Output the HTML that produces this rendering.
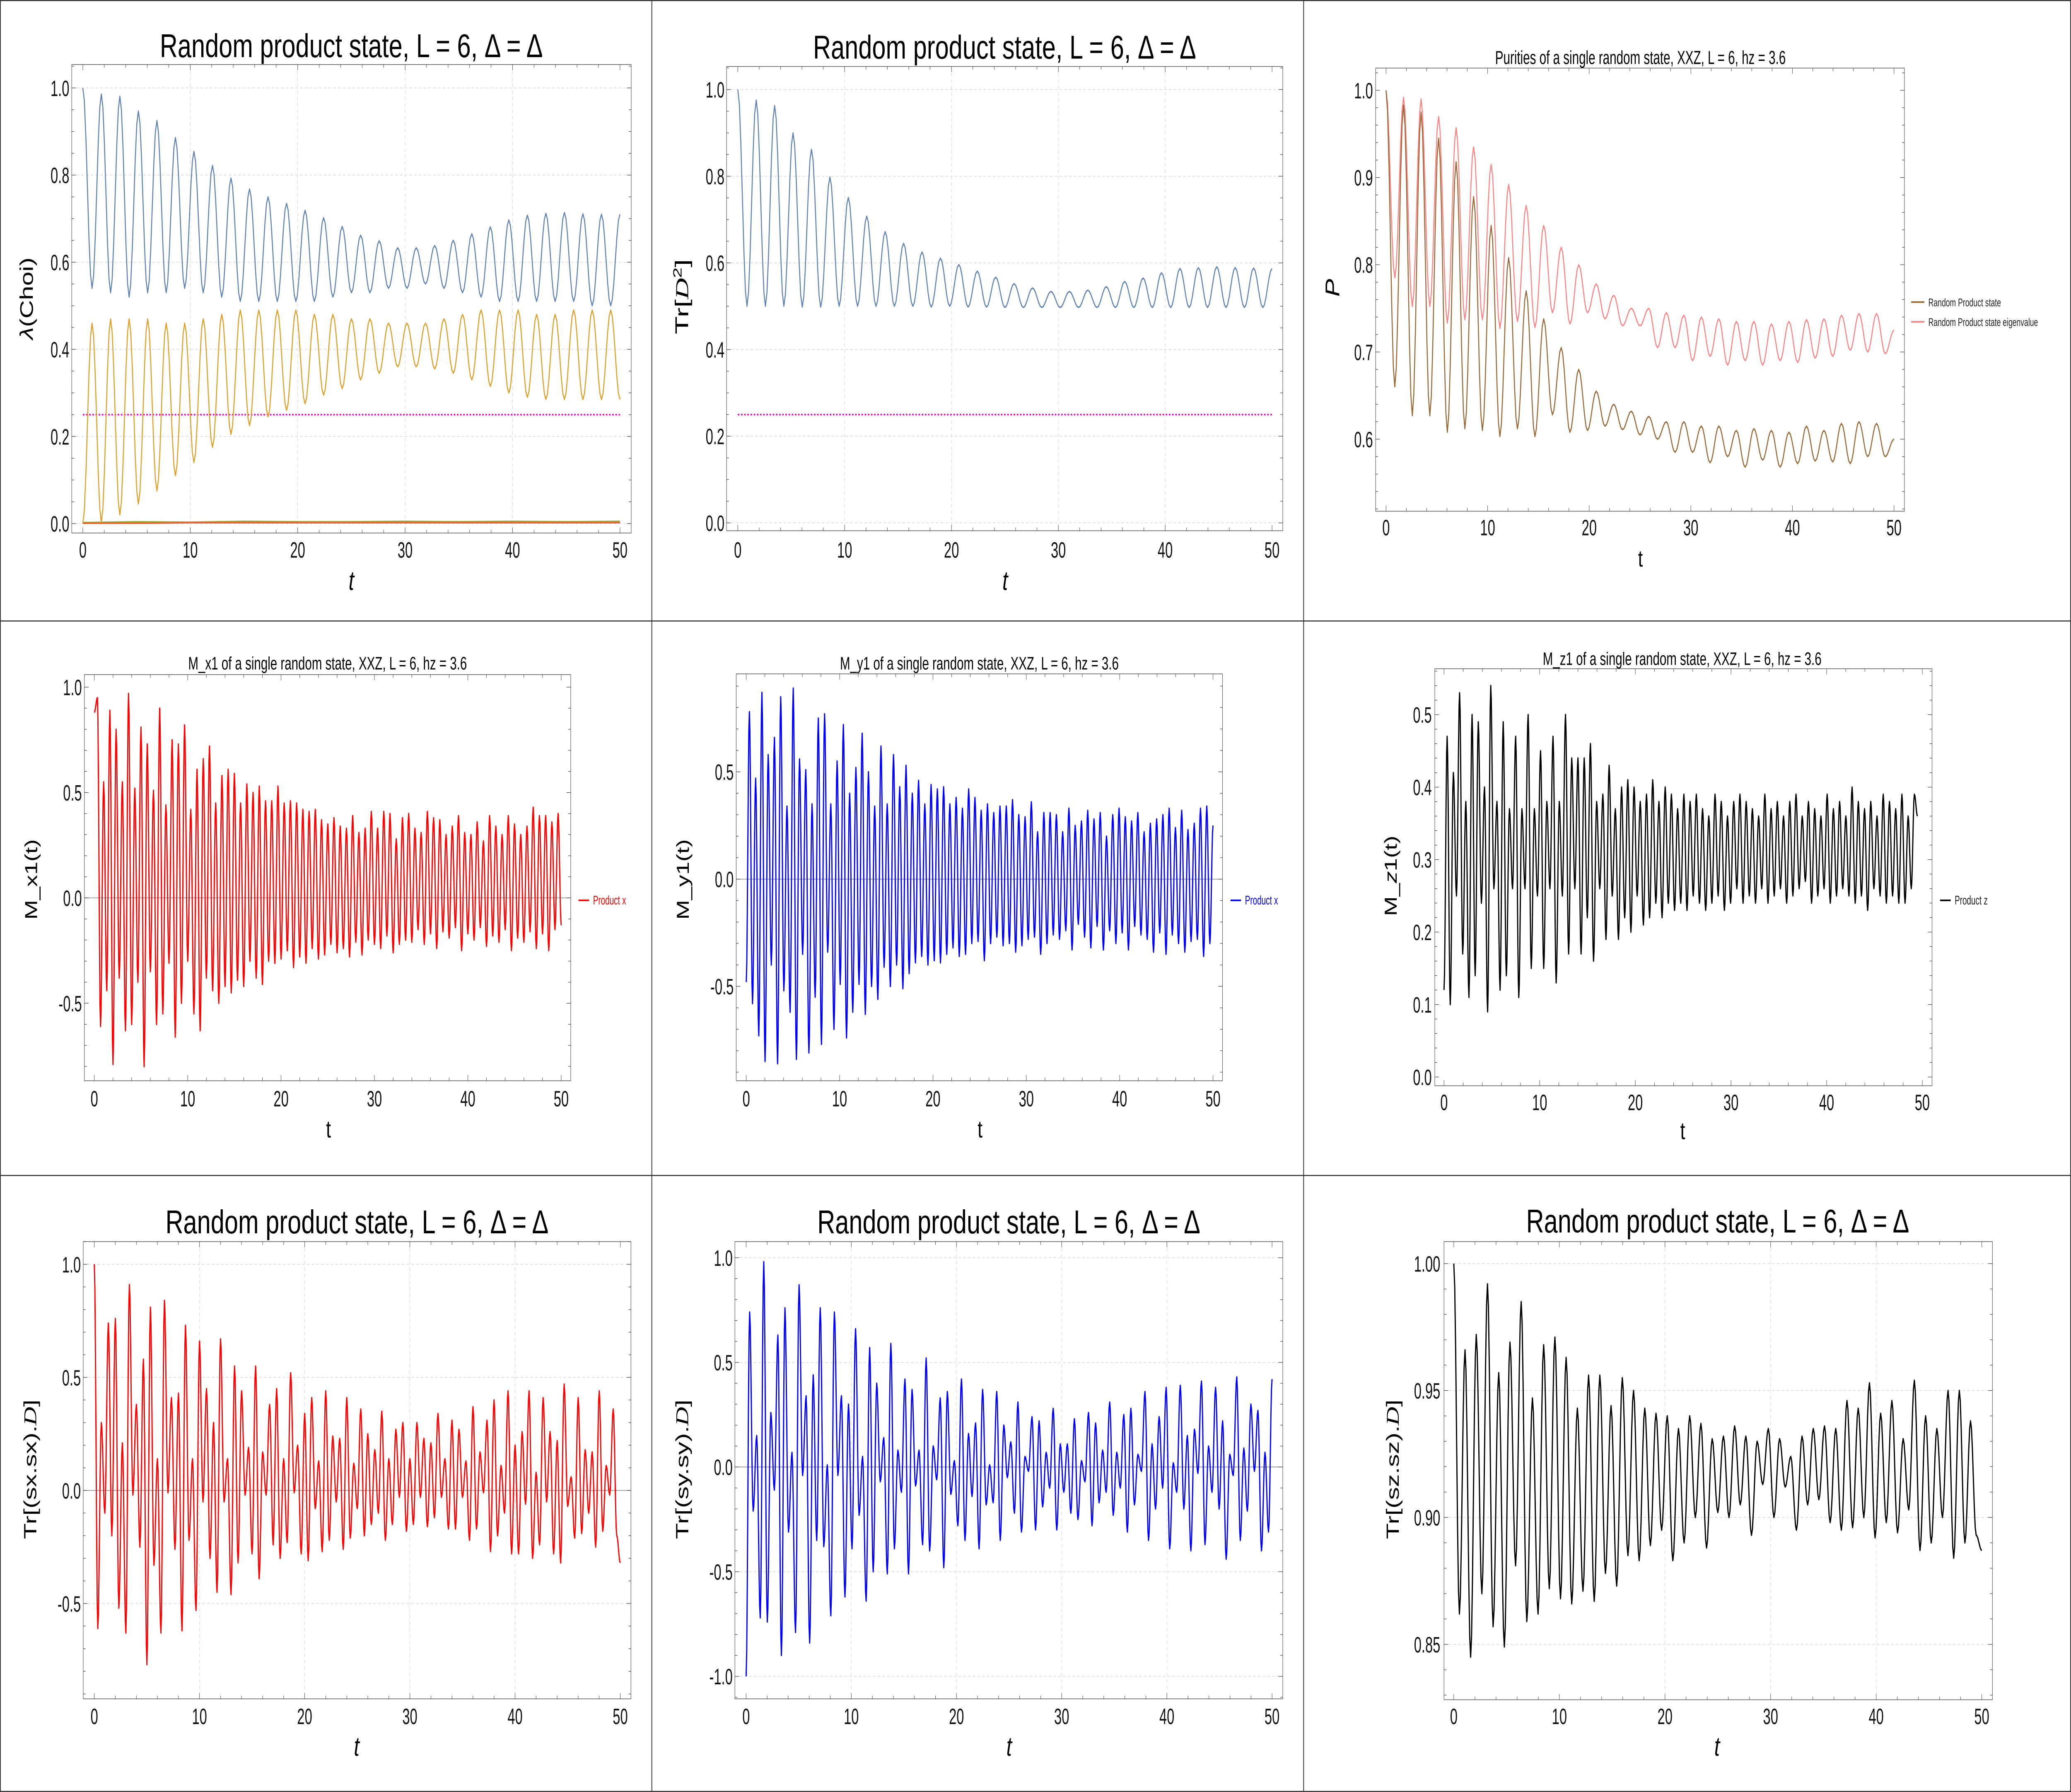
<!DOCTYPE html>
<html><head><meta charset="utf-8"><title>Random product state panels</title>
<style>
html,body{margin:0;padding:0;background:#fff;overflow:hidden;width:100vw;height:100vh;}
svg{display:block;position:absolute;left:0;top:0;width:100vw;height:100vh;}
text{font-family:"Liberation Sans","DejaVu Sans",sans-serif;}
</style></head>
<body>
<svg id="fig" xmlns="http://www.w3.org/2000/svg" viewBox="0 0 1568 1002.5" preserveAspectRatio="none">
<rect x="0" y="0" width="1568" height="1002.5" fill="#fff"/>
</svg>
<script>
// ---------- DATA (successive local extrema) ----------
const xTickLabels = ["0","10","20","30","40","50"];
const xTickValues = [0,10,20,30,40,50];

// Panel 1: lambda(Choi)
const p1BluePeaks = [1.0,.986,.981,.947,.925,.886,.854,.822,.793,.768,.750,.735,.719,.702,.682,.662,.649,.633,.633,.638,.650,.665,.681,.697,.708,.712,.714,.711,.710];
const p1BlueTroughs = [.54,.53,.52,.53,.53,.54,.53,.52,.51,.51,.51,.51,.51,.52,.53,.53,.54,.54,.55,.54,.53,.52,.51,.51,.51,.51,.51,.50,.50];
const p1BlueEnd = 0.71;
const p1OrangeTroughs = [0.0,0.003,0.02,0.045,0.075,0.11,0.14,0.175,0.205,0.225,0.245,0.26,0.275,0.295,0.31,0.33,0.345,0.36,0.36,0.355,0.345,0.33,0.315,0.30,0.29,0.285,0.285,0.285,0.285];
const p1OrangePeaks = [.46,.47,.47,.47,.46,.46,.47,.48,.49,.49,.49,.49,.48,.48,.47,.47,.46,.46,.46,.47,.48,.49,.49,.49,.48,.48,.49,.49,.49];
const p1OrangeEnd = 0.285;
const p1GreenVals = [0.002,0.004,0.003,0.005,0.004,0.004,0.005,0.004,0.005,0.004,0.005];
const p1RedVals = [0.001,0.001,0.002,0.002,0.002,0.002,0.002,0.002,0.002,0.002,0.002];
const p1Ref = [0.25,0.25];
const p1YTicks = [0,0.2,0.4,0.6,0.8,1.0];
const p1YLabels = ["0.0","0.2","0.4","0.6","0.8","1.0"];

// Panel 2: Tr[D^2]
const p2Peaks = [1.0,.976,.963,.90,.862,.798,.751,.708,.672,.645,.625,.611,.596,.581,.567,.552,.542,.534,.534,.537,.545,.557,.565,.577,.587,.589,.591,.589,.588];
const p2Troughs = [.50,.50,.50,.498,.498,.50,.50,.50,.50,.50,.498,.50,.498,.498,.497,.497,.497,.497,.497,.497,.497,.497,.497,.497,.497,.497,.497,.497,.497];
const p2End = 0.587;
const p2Ref = [0.25,0.25];
const p2YTicks = [0,0.2,0.4,0.6,0.8,1.0];
const p2YLabels = ["0.0","0.2","0.4","0.6","0.8","1.0"];

// Panel 3: purities
const p3BrownPeaks = [1.0,.983,.975,.945,.918,.878,.845,.808,.770,.738,.705,.680,.655,.640,.632,.626,.620,.620,.615,.615,.610,.612,.610,.608,.615,.610,.618,.620,.618];
const p3BrownTroughs = [.66,.627,.627,.608,.612,.61,.603,.612,.603,.628,.608,.61,.615,.611,.605,.60,.585,.585,.573,.58,.568,.576,.568,.572,.575,.574,.572,.58,.58];
const p3BrownEnd = 0.60;
const p3PinkPeaks = [1.0,.992,.99,.97,.957,.935,.915,.892,.868,.845,.820,.80,.778,.765,.750,.750,.745,.742,.740,.738,.735,.735,.732,.735,.737,.738,.742,.744,.744];
const p3PinkTroughs = [.785,.752,.752,.733,.737,.737,.727,.735,.728,.745,.732,.745,.738,.73,.73,.705,.705,.690,.695,.685,.690,.685,.690,.688,.693,.695,.702,.700,.698];
const p3PinkEnd = 0.725;
const p3YTicks = [0.6,0.7,0.8,0.9,1.0];
const p3YLabels = ["0.6","0.7","0.8","0.9","1.0"];

// Panel 4: M_x1
const p4Start = 0.88;
const p4Peaks = [.95,.55,.89,.80,.55,.97,.52,.81,.73,.51,.90,.44,.75,.73,.82,.42,.61,.66,.72,.45,.58,.61,.59,.45,.54,.50,.53,.46,.46,.53,.45,.46,.45,.42,.41,.42,.37,.35,.38,.34,.33,.39,.31,.33,.41,.33,.41,.40,.28,.38,.40,.33,.31,.41,.38,.37,.30,.34,.39,.31,.30,.36,.27,.39,.34,.30,.39,.35,.30,.34,.43,.39,.39,.36,.40];
const p4Troughs = [-.61,-.44,-.79,-.38,-.63,-.60,-.40,-.80,-.35,-.60,-.55,-.31,-.66,-.50,-.30,-.55,-.63,-.38,-.44,-.50,-.42,-.45,-.39,-.42,-.30,-.38,-.41,-.30,-.31,-.29,-.25,-.33,-.28,-.31,-.24,-.29,-.27,-.22,-.26,-.24,-.28,-.21,-.27,-.20,-.22,-.24,-.18,-.26,-.22,-.20,-.21,-.15,-.22,-.17,-.24,-.16,-.19,-.14,-.25,-.17,-.20,-.14,-.23,-.18,-.21,-.15,-.25,-.19,-.21,-.16,-.24,-.17,-.25,-.15];
const p4End = -0.13;
const p4YTicks = [-0.5,0,0.5,1.0];
const p4YLabels = ["-0.5","0.0","0.5","1.0"];

// Panel 5: M_y1
const p5Start = -0.48;
const p5Peaks = [.78,.47,.87,.58,.66,.85,.34,.89,.56,.51,.35,.75,.77,.35,.55,.72,.40,.52,.68,.50,.34,.62,.35,.58,.43,.53,.40,.46,.35,.44,.42,.43,.35,.38,.33,.42,.38,.32,.35,.31,.34,.34,.37,.30,.29,.36,.22,.31,.31,.30,.22,.33,.25,.27,.32,.28,.31,.20,.30,.33,.29,.27,.31,.22,.26,.28,.30,.33,.24,.32,.23,.26,.33,.34];
const p5Troughs = [-.58,-.73,-.85,-.40,-.86,-.52,-.62,-.84,-.35,-.81,-.55,-.77,-.34,-.70,-.49,-.74,-.62,-.49,-.63,-.50,-.56,-.41,-.50,-.40,-.51,-.44,-.39,-.36,-.40,-.38,-.39,-.35,-.32,-.36,-.35,-.30,-.29,-.38,-.30,-.27,-.31,-.30,-.34,-.31,-.28,-.27,-.35,-.30,-.26,-.28,-.24,-.33,-.21,-.27,-.32,-.22,-.33,-.24,-.30,-.25,-.33,-.22,-.26,-.28,-.34,-.25,-.35,-.26,-.30,-.34,-.29,-.28,-.36,-.30];
const p5End = 0.25;
const p5YTicks = [-0.5,0,0.5];
const p5YLabels = ["-0.5","0.0","0.5"];

// Panel 6: M_z1
const p6Start = 0.12;
const p6Peaks = [.47,.42,.53,.38,.50,.49,.40,.54,.38,.49,.37,.47,.37,.50,.37,.45,.38,.47,.38,.50,.44,.44,.44,.46,.38,.39,.43,.37,.40,.41,.40,.38,.39,.41,.38,.40,.39,.37,.39,.38,.39,.37,.36,.39,.38,.36,.38,.39,.38,.37,.36,.39,.37,.38,.36,.38,.39,.36,.38,.37,.36,.39,.37,.38,.36,.40,.38,.37,.38,.36,.39,.38,.37,.39,.36,.39];
const p6Troughs = [.10,.25,.17,.11,.14,.24,.09,.26,.12,.14,.26,.11,.26,.15,.25,.15,.26,.13,.25,.17,.26,.17,.22,.16,.26,.19,.25,.19,.22,.20,.25,.21,.22,.24,.22,.24,.23,.24,.23,.25,.24,.23,.24,.25,.23,.24,.26,.24,.25,.24,.26,.24,.25,.26,.24,.25,.26,.27,.24,.25,.26,.24,.25,.26,.25,.24,.25,.23,.26,.25,.24,.25,.24,.24,.26];
const p6End = 0.36;
const p6YTicks = [0,0.1,0.2,0.3,0.4,0.5];
const p6YLabels = ["0.0","0.1","0.2","0.3","0.4","0.5"];

// Panel 7: Tr[(sx.sx).D]
const p7Start = 1.0;
const p7Troughs = [-.61,-.10,-.20,-.52,-.63,-.02,-.25,-.77,-.33,-.63,-.01,-.26,-.62,-.22,-.53,-.05,-.30,-.45,-.05,-.46,-.32,-.02,-.28,-.39,-.02,-.24,-.30,-.23,-.01,-.28,-.31,-.08,-.27,-.22,-.05,-.26,-.21,-.08,-.20,-.15,-.10,-.22,-.15,-.03,-.18,-.15,-.03,-.16,-.12,-.03,-.17,-.17,-.03,-.22,-.17,-.01,-.27,-.20,-.10,-.28,-.28,-.06,-.30,-.24,-.05,-.28,-.32,-.07,-.21,-.19,-.10,-.25,-.18,-.02,-.20];
const p7Peaks = [.30,.74,.76,.21,.91,.38,.58,.81,.14,.84,.41,.43,.73,.14,.66,.45,.30,.67,.14,.55,.44,.19,.55,.17,.38,.45,.14,.52,.20,.34,.41,.13,.44,.24,.23,.41,.12,.36,.25,.18,.35,.14,.27,.30,.14,.30,.23,.21,.34,.14,.31,.27,.13,.37,.17,.31,.40,.11,.44,.20,.26,.44,.08,.41,.26,.22,.47,.06,.41,.18,.17,.44,.11,.36];
const p7End = -0.32;
const p7YTicks = [-0.5,0,0.5,1.0];
const p7YLabels = ["-0.5","0.0","0.5","1.0"];

// Panel 8: Tr[(sy.sy).D]
const p8Start = -1.0;
const p8Peaks = [.74,.15,.98,.26,.63,.76,.07,.87,.34,.44,.76,.01,.74,.34,.30,.66,.05,.57,.40,.14,.59,.08,.42,.37,.08,.52,.10,.33,.36,.03,.42,.16,.21,.37,.01,.36,.20,.12,.31,.05,.24,.22,.07,.28,.11,.11,.23,.03,.26,.21,.08,.31,.07,.25,.28,.06,.36,.11,.24,.38,.02,.39,.15,.18,.41,.10,.38,.22,.06,.43,.09,.30,.27,.07];
const p8Troughs = [-.21,-.72,-.74,-.11,-.90,-.31,-.79,-.04,-.84,-.35,-.38,-.71,-.04,-.62,-.39,-.23,-.64,-.50,-.07,-.51,-.39,-.12,-.51,-.09,-.37,-.40,-.06,-.48,-.13,-.28,-.35,-.14,-.39,-.18,-.17,-.35,-.05,-.22,-.31,-.02,-.30,-.19,-.10,-.30,-.12,-.22,-.25,-.07,-.28,-.17,-.12,-.23,-.10,-.31,-.18,-.02,-.35,-.20,-.10,-.39,-.12,-.20,-.40,-.03,-.37,-.12,-.20,-.44,-.04,-.35,-.21,-.02,-.40,-.31];
const p8End = 0.42;
const p8YTicks = [-1.0,-0.5,0,0.5,1.0];
const p8YLabels = ["-1.0","-0.5","0.0","0.5","1.0"];

// Panel 9: Tr[(sz.sz).D]
const p9Start = 1.0;
const p9Troughs = [.862,.845,.870,.857,.849,.881,.859,.862,.872,.868,.866,.871,.867,.878,.873,.885,.883,.889,.895,.883,.890,.900,.888,.902,.900,.905,.893,.913,.900,.912,.895,.905,.907,.898,.895,.896,.900,.892,.898,.894,.903,.887,.890,.900,.884,.890,.893];
const p9Peaks = [.966,.972,.992,.957,.969,.985,.947,.968,.971,.963,.943,.956,.956,.944,.955,.950,.943,.941,.940,.935,.940,.937,.931,.932,.936,.932,.930,.935,.931,.924,.932,.935,.936,.935,.946,.943,.953,.941,.946,.931,.954,.940,.935,.950,.950,.938];
const p9End = 0.887;
const p9YTicks = [0.85,0.90,0.95,1.00];
const p9YLabels = ["0.85","0.90","0.95","1.00"];

// ---------- RENDERING ----------
const NS = 'http://www.w3.org/2000/svg';
const svg = document.getElementById('fig');
function mk(tag, attrs, parent){
  const e = document.createElementNS(NS, tag);
  for (const k in attrs) e.setAttribute(k, attrs[k]);
  parent.appendChild(e);
  return e;
}
function interleave(first, second, start, end){
  const out = [];
  if (start !== null) out.push(start);
  const n = Math.max(first.length, second.length);
  for (let i = 0; i < n; i++){
    if (i < first.length) out.push(first[i]);
    if (i < second.length) out.push(second[i]);
  }
  if (end !== null) out.push(end);
  return out;
}
function smoothPoints(cfg, vals, t0, t1){
  const pts = [];
  const n = vals.length;
  const dt = (t1 - t0) / (n - 1);
  const K = 6;
  for (let i = 0; i < n - 1; i++){
    const a = vals[i], b = vals[i+1];
    for (let k = 0; k < K; k++){
      const s = k / K;
      const v = a + (b - a) * (1 - Math.cos(Math.PI * s)) / 2;
      const t = t0 + (i + s) * dt;
      pts.push(cfg.sx(t).toFixed(2) + ',' + cfg.sy(v).toFixed(2));
    }
  }
  pts.push(cfg.sx(t1).toFixed(2) + ',' + cfg.sy(vals[n-1]).toFixed(2));
  return pts.join(' ');
}
function linearPoints(cfg, vals, t0, t1){
  const n = vals.length;
  return vals.map((v, i) => cfg.sx(t0 + i * (t1 - t0) / (n - 1)).toFixed(2) + ',' + cfg.sy(v).toFixed(2)).join(' ');
}

function panel(cfg){
  cfg.sx = t => cfg.x0 + t * cfg.xs;
  cfg.sy = v => cfg.yb - (v - cfg.vb) * cfg.ys;
  const g = mk('g', {}, svg);
  
  
  const f = cfg.frame;

  if (cfg.grid){
    const gg = mk('g', {stroke:'#d6d6d6', 'stroke-width':0.35, 'stroke-dasharray':'2,1.6', fill:'none'}, g);
    
    
    xTickValues.forEach(t => { if (t > 0 && t < 50 && (!cfg.gridX || cfg.gridX.includes(t))) mk('line', {x1:cfg.sx(t), x2:cfg.sx(t), y1:f[1], y2:f[3]}, gg); });
    cfg.yTicks.forEach(v => mk('line', {x1:f[0], x2:f[2], y1:cfg.sy(v), y2:cfg.sy(v)}, gg));
  }
  if (cfg.zeroLine){
    const zl = mk('line', {x1:f[0], x2:f[2], y1:cfg.sy(0), y2:cfg.sy(0), stroke:'#888', 'stroke-width':0.35}, g);
    
    
  }
  const fr = mk('rect', {x:f[0], y:f[1], width:f[2]-f[0], height:f[3]-f[1], fill:'none', stroke:'#555', 'stroke-width':0.35}, g);
  
  

  const tg = mk('g', {stroke:'#444', 'stroke-width':0.3}, g);
  
  
  for (let t = 0; t <= 50.001; t += 2){
    const major = Math.abs(t % 10) < 1e-6;
    const L = major ? 3.2 : 1.8;
    const x = cfg.sx(t);
    mk('line', {x1:x, x2:x, y1:f[3], y2:f[3]-L}, tg);
    mk('line', {x1:x, x2:x, y1:f[1], y2:f[1]+L}, tg);
  }
  const ymin = cfg.vb + (cfg.yb - f[3]) / cfg.ys, ymax = cfg.vb + (cfg.yb - f[1]) / cfg.ys;
  const st = cfg.yMinor;
  for (let v = Math.ceil(ymin / st) * st; v <= ymax; v += st){
    const isMajor = cfg.yTicks.some(m => Math.abs(m - v) < st / 10);
    const L = isMajor ? 3.2 : 1.8;
    const y = cfg.sy(v);
    mk('line', {x1:f[0], x2:f[0]+L, y1:y, y2:y}, tg);
    mk('line', {x1:f[2], x2:f[2]-L, y1:y, y2:y}, tg);
  }

  const xl = mk('g', {'font-size':cfg.tickFs, 'text-anchor':'middle', fill:'#111'}, g);
  
  
  xTickValues.forEach((t, i) => {
    const tx = mk('text', {x:cfg.sx(t), y:cfg.xTickY, transform:`translate(${cfg.sx(t)},0) scale(0.82,1) translate(${-cfg.sx(t)},0)`}, xl);
    tx.textContent = xTickLabels[i];
  });
  const yl = mk('g', {'font-size':cfg.tickFs, 'text-anchor':'end', fill:'#111'}, g);
  
  
  cfg.yTicks.forEach((v, i) => {
    const y = cfg.sy(v) + cfg.tickFs * 0.36;
    const tx = mk('text', {x:cfg.yTickX, y:y, transform:`translate(${cfg.yTickX},0) scale(0.82,1) translate(${-cfg.yTickX},0)`}, yl);
    tx.textContent = cfg.yLabels[i];
  });

  cfg.series.forEach(s => {
    const pts = s.linear ? linearPoints(cfg, s.vals, s.t0, s.t1) : smoothPoints(cfg, s.vals, s.t0, s.t1);
    const attrs = {points:pts, fill:'none', stroke:s.color, 'stroke-width':s.w, 'stroke-linejoin':'round'};
    if (s.dash) attrs['stroke-dasharray'] = s.dash;
    const pl = mk('polyline', attrs, g);
    
    
  });

  const ti = mk('text', {x:cfg.title[1], y:cfg.title[2], 'font-size':cfg.title[3], 'text-anchor':'middle', fill:'#000', textLength:cfg.title[4], lengthAdjust:'spacingAndGlyphs'}, g);
  ti.textContent = cfg.title[0];
  
  

  const xt = mk('text', {x:cfg.xLabel[0], y:cfg.xLabel[1], 'font-size':cfg.xLabel[2], 'text-anchor':'middle', 'font-style':cfg.xLabel[3] ? 'italic' : 'normal', fill:'#000'}, g);
  xt.textContent = 't';
  
  

  const yt = mk('text', {x:0, y:0, 'font-size':cfg.yLabel.fs, 'text-anchor':'middle', fill:'#000', transform:`translate(${cfg.yLabel.x},${cfg.yLabel.y}) rotate(-90)`}, g);
  cfg.yLabel.parts.forEach(p => {
    const ts = mk('tspan', {}, yt);
    if (p.it) ts.setAttribute('font-style', 'italic');
    if (p.serif) ts.setAttribute('font-family', '"Liberation Serif", serif');
    if (p.sup) { ts.setAttribute('baseline-shift', 'super'); ts.setAttribute('font-size', cfg.yLabel.fs * 0.65); }
    ts.textContent = p.t;
  });
  if (cfg.yLabel.len) { yt.setAttribute('textLength', cfg.yLabel.len); yt.setAttribute('lengthAdjust', 'spacingAndGlyphs'); }
  
  

  if (cfg.legend){
    cfg.legend.forEach(L => {
      const lg = mk('g', {}, g);
      
      
      mk('line', {x1:L.x, x2:L.x + L.len, y1:L.y, y2:L.y, stroke:L.color, 'stroke-width':0.9}, lg);
      const lt = mk('text', {x:L.x + L.len + 3, y:L.y + 2.3, 'font-size':L.fs, fill:L.textColor, textLength:L.tl, lengthAdjust:'spacingAndGlyphs'}, lg);
      lt.textContent = L.text;
    });
  }
}

const TITLE_BIG = 'Random product state, L = 6, \u0394 = \u0394';

panel({name:'panel-lambda-choi', x0:62.7, xs:8.134, vb:0, yb:292.9, ys:243.7, frame:[54.3,36.1,477.9,298.2], grid:true,
  yTicks:p1YTicks, yLabels:p1YLabels, yMinor:0.05, tickFs:12.5, xTickY:312, yTickX:52.5,
  title:[TITLE_BIG, 266, 32, 18.5, 290], xLabel:[266, 330, 15, true],
  yLabel:{x:25, y:167, fs:14, len:46, parts:[{t:'\u03bb', it:true},{t:'(Choi)'}]},
  series:[
    {name:'series-reference-0.25', vals:p1Ref, t0:0, t1:50, color:'#ee10c0', w:0.9, dash:'1.2,1.2', linear:true},
    {name:'series-green', vals:p1GreenVals, t0:0, t1:50, color:'#8fb032', w:0.9, linear:true},
    {name:'series-red-orange', vals:p1RedVals, t0:0, t1:50, color:'#eb6235', w:0.9, linear:true},
    {name:'series-orange', vals:interleave(p1OrangeTroughs, p1OrangePeaks, null, p1OrangeEnd), t0:0, t1:50, color:'#e19c24', w:0.75},
    {name:'series-blue', vals:interleave(p1BluePeaks, p1BlueTroughs, null, p1BlueEnd), t0:0, t1:50, color:'#5e81b5', w:0.75}
  ]});

panel({name:'panel-purity-trace', x0:558.6, xs:8.09, vb:0, yb:292.5, ys:242.4, frame:[550.1,37.2,971.2,296.9], grid:true,
  yTicks:p2YTicks, yLabels:p2YLabels, yMinor:0.05, tickFs:12.5, xTickY:312, yTickX:548.5,
  title:[TITLE_BIG, 760.6, 32.8, 18.5, 290], xLabel:[761, 330, 15, true],
  yLabel:{x:521, y:166, fs:14, len:42, parts:[{t:'Tr['},{t:'D', it:true, serif:true},{t:'2', sup:true},{t:']'}]},
  series:[
    {name:'series-reference-0.25', vals:p2Ref, t0:0, t1:50, color:'#ee10c0', w:0.9, dash:'1.2,1.2', linear:true},
    {name:'series-blue', vals:interleave(p2Peaks, p2Troughs, null, p2End), t0:0, t1:50, color:'#5e81b5', w:0.75}
  ]});

panel({name:'panel-purities', x0:1049.4, xs:7.692, vb:0.6, yb:245.7, ys:488, frame:[1041.5,38.1,1441.9,286], grid:false,
  yTicks:p3YTicks, yLabels:p3YLabels, yMinor:0.02, tickFs:12.5, xTickY:299.5, yTickX:1039.5,
  title:['Purities of a single random state, XXZ, L = 6, hz = 3.6', 1242, 35.8, 10.5, 220], xLabel:[1242, 317, 13, false],
  yLabel:{x:1014, y:161, fs:15, parts:[{t:'P', it:true}]},
  legend:[
    {x:1447, y:169, len:10, color:'#996633', textColor:'#222', text:'Random Product state', fs:6.3, tl:55},
    {x:1447, y:180, len:10, color:'#ff8080', textColor:'#222', text:'Random Product state eigenvalue', fs:6.3, tl:83}
  ],
  series:[
    {name:'series-eigenvalue-pink', vals:interleave(p3PinkPeaks, p3PinkTroughs, null, p3PinkEnd), t0:0, t1:50, color:'#ff8080', w:0.75},
    {name:'series-product-brown', vals:interleave(p3BrownPeaks, p3BrownTroughs, null, p3BrownEnd), t0:0, t1:50, color:'#996633', w:0.75}
  ]});

panel({name:'panel-mx1', x0:71.4, xs:7.07, vb:0, yb:502.3, ys:117.9, frame:[63.9,377.4,432.1,604.6], grid:false, zeroLine:true,
  yTicks:p4YTicks, yLabels:p4YLabels, yMinor:0.1, tickFs:12.5, xTickY:619, yTickX:62,
  title:['M_x1 of a single random state, XXZ, L = 6, hz = 3.6', 248, 374.5, 10, 211], xLabel:[248.7, 636.3, 13.5, false],
  yLabel:{x:28, y:492, fs:13, len:45, parts:[{t:'M_x1(t)'}]},
  legend:[{x:438, y:503.7, len:8, color:'#ff0000', textColor:'#ff0000', text:'Product x', fs:7, tl:25}],
  series:[{name:'series-product-x', vals:interleave(p4Peaks, p4Troughs, p4Start, p4End), t0:0, t1:50, color:'#ff0000', w:0.9}]});

panel({name:'panel-my1', x0:565, xs:7.068, vb:0, yb:491.8, ys:120, frame:[557.4,377,925.6,604.6], grid:false, zeroLine:true,
  yTicks:p5YTicks, yLabels:p5YLabels, yMinor:0.1, tickFs:12.5, xTickY:619, yTickX:555.5,
  title:['M_y1 of a single random state, XXZ, L = 6, hz = 3.6', 741.5, 374.5, 10, 211], xLabel:[742, 636.3, 13.5, false],
  yLabel:{x:521.5, y:492, fs:13, len:45, parts:[{t:'M_y1(t)'}]},
  legend:[{x:931.6, y:503.7, len:8, color:'#0000ff', textColor:'#0000ff', text:'Product x', fs:7, tl:25}],
  series:[{name:'series-product-y', vals:interleave(p5Peaks, p5Troughs, p5Start, p5End), t0:0, t1:50, color:'#0000ff', w:0.9}]});

panel({name:'panel-mz1', x0:1093.3, xs:7.242, vb:0, yb:602.5, ys:405.4, frame:[1086.3,374.1,1462.8,607.4], grid:false,
  yTicks:p6YTicks, yLabels:p6YLabels, yMinor:0.02, tickFs:12.5, xTickY:621, yTickX:1084,
  title:['M_z1 of a single random state, XXZ, L = 6, hz = 3.6', 1273.6, 372, 10, 211], xLabel:[1274, 637.3, 13.5, false],
  yLabel:{x:1057.5, y:490, fs:13, len:45, parts:[{t:'M_'},{t:'z', it:true},{t:'1(t)'}]},
  legend:[{x:1468.9, y:503.7, len:8, color:'#000', textColor:'#222', text:'Product z', fs:7, tl:25}],
  series:[{name:'series-product-z', vals:interleave(p6Peaks, p6Troughs, p6Start, p6End), t0:0, t1:49.5, color:'#000', w:0.9}]});

panel({name:'panel-sxsx', x0:71.4, xs:7.964, vb:0, yb:833.8, ys:126.5, frame:[63,694.6,477.7,950.4], grid:true, zeroLine:true,
  yTicks:p7YTicks, yLabels:p7YLabels, yMinor:0.1, tickFs:12.5, xTickY:964.5, yTickX:61.2,
  title:[TITLE_BIG, 270.3, 690, 18.5, 290], xLabel:[270, 982.2, 15, true],
  yLabel:{x:27.5, y:822, fs:13.5, len:78, parts:[{t:'Tr[(sx.sx).'},{t:'D', it:true, serif:true},{t:']'}]},
  series:[{name:'series-sxsx', vals:interleave(p7Troughs, p7Peaks, p7Start, p7End), t0:0, t1:50, color:'#ff0000', w:0.9}]});

panel({name:'panel-sysy', x0:564.9, xs:7.964, vb:0, yb:820.7, ys:117.1, frame:[556.4,694.6,971.2,950.4], grid:true, zeroLine:true,
  yTicks:p8YTicks, yLabels:p8YLabels, yMinor:0.1, tickFs:12.5, xTickY:964.5, yTickX:554.7,
  title:[TITLE_BIG, 763.8, 690, 18.5, 290], xLabel:[764, 982.2, 15, true],
  yLabel:{x:521, y:822, fs:13.5, len:78, parts:[{t:'Tr[(sy.sy).'},{t:'D', it:true, serif:true},{t:']'}]},
  series:[{name:'series-sysy', vals:interleave(p8Peaks, p8Troughs, p8Start, p8End), t0:0, t1:50, color:'#0000ff', w:0.9}]});

panel({name:'panel-szsz', x0:1100.7, xs:7.995, vb:1.0, yb:706.9, ys:1420, frame:[1093.3,694.6,1508.5,950.9], grid:true, gridX:[20,30,40],
  yTicks:p9YTicks, yLabels:p9YLabels, yMinor:0.01, tickFs:12.5, xTickY:964.5, yTickX:1090.5,
  title:[TITLE_BIG, 1300.5, 689.5, 18.5, 290], xLabel:[1300, 982.2, 15, true],
  yLabel:{x:1059, y:822, fs:13.5, len:78, parts:[{t:'Tr[(sz.sz).'},{t:'D', it:true, serif:true},{t:']'}]},
  series:[{name:'series-szsz', vals:interleave(p9Troughs, p9Peaks, p9Start, p9End), t0:0, t1:50, color:'#000', w:0.9}]});

const sep = mk('g', {stroke:'#333', 'stroke-width':0.6}, svg);


mk('line', {x1:493.5, x2:493.5, y1:0, y2:1002.5}, sep);
mk('line', {x1:987, x2:987, y1:0, y2:1002.5}, sep);
mk('line', {x1:0, x2:1568, y1:347.4, y2:347.4}, sep);
mk('line', {x1:0, x2:1568, y1:657.6, y2:657.6}, sep);
mk('rect', {x:0.3, y:0.3, width:1567.4, height:1001.9, fill:'none'}, sep);
</script>
</body></html>
